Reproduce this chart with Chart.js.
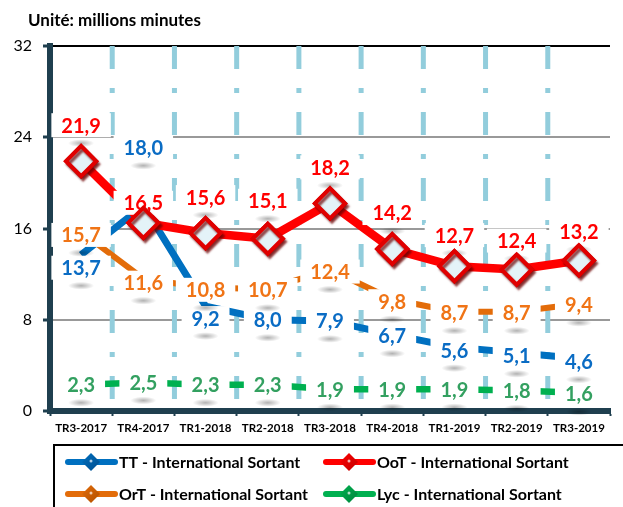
<!DOCTYPE html>
<html><head><meta charset="utf-8">
<script src="https://cdn.jsdelivr.net/npm/chart.js@4"></script>
<style>html,body{margin:0;padding:0;overflow:hidden;background:#fff}</style>
</head><body>
<canvas id="c" width="629" height="507"></canvas>
<script>
const categories = ['TR3-2017','TR4-2017','TR1-2018','TR2-2018','TR3-2018','TR4-2018','TR1-2019','TR2-2019','TR3-2019'];
const ttValues  = [13.7, 18.0, 9.2, 8.0, 7.9, 6.7, 5.6, 5.1, 4.6];
const ootValues = [21.9, 16.5, 15.6, 15.1, 18.2, 14.2, 12.7, 12.4, 13.2];
const ortValues = [15.7, 11.6, 10.8, 10.7, 12.4, 9.8, 8.7, 8.7, 9.4];
const lycValues = [2.3, 2.5, 2.3, 2.3, 1.9, 1.9, 1.9, 1.8, 1.6];
const yTicks = [0, 8, 16, 24, 32];
const seriesNames = ['TT - International Sortant','OoT - International Sortant','OrT - International Sortant','Lyc - International Sortant'];
const unitTitle = 'Unité: millions minutes';

const FONT = 'Lato, "Open Sans", sans-serif';
const AXIS_COLOR = '#1F3F4F';

// label vertical offsets (pixels) relative to each point
const labelDy = {
  tt:  [13, -58, 12, 0, 0, 1, 3, 3, 3],
  oot: [-36, -20, -36, -38, -36, -36, -31, -29, -29],
  ort: [3, 4, 2, 1, 2, 2, 1, 1, 1],
  lyc: [0, 0, 0, 0, 0, 0, 0, 0, 1]
};

const datasets = [
  { label: seriesNames[3], data: lycValues, borderColor: '#00B050', borderWidth: 6.5, pointRadius: 0, order: 4,
    valueLabel: { color: '#33A060', dy: labelDy.lyc }, legendColor: '#00B050', legendDark: '#00843C' },
  { label: seriesNames[2], data: ortValues, borderColor: '#E36C09', borderWidth: 6, pointRadius: 0, order: 3,
    valueLabel: { color: '#F07416', dy: labelDy.ort }, legendColor: '#E36C09', legendDark: '#B05000' },
  { label: seriesNames[0], data: ttValues, borderColor: '#0070C0', borderWidth: 7, pointRadius: 0, order: 2,
    valueLabel: { color: '#0A6CC4', dy: labelDy.tt }, legendColor: '#0070C0', legendDark: '#004C8C' },
  { label: seriesNames[1], data: ootValues, borderColor: '#FF0000', borderWidth: 8.5, order: 1,
    pointStyle: 'rectRot', pointRadius: 15, pointHoverRadius: 15, pointBorderWidth: 4,
    pointBorderColor: '#E00000', pointBackgroundColor: '#E4F3F8',
    valueLabel: { color: '#FF0000', dy: labelDy.oot }, legendColor: '#FF0000', legendDark: '#C00000', markers: true }
];

const fmt = v => v.toFixed(1).replace('.', ',');

const bgPlugin = {
  id: 'vgrid',
  beforeDatasetsDraw(chart) {
    const ctx = chart.ctx, xs = chart.scales.x, a = chart.chartArea;
    const n = categories.length, step = (a.right - a.left) / n;
    ctx.save();
    ctx.strokeStyle = '#92CDDC';
    ctx.lineWidth = 5;
    ctx.setLineDash([23, 19, 5, 19]);
    for (let i = 1; i < n; i++) {
      const x = xs.getPixelForValue(i) - step / 2;
      ctx.beginPath(); ctx.moveTo(x, a.top); ctx.lineTo(x, a.bottom - 3); ctx.stroke();
    }
    ctx.restore();
  }
};

const labelPlugin = {
  id: 'valueLabels',
  afterDatasetsDraw(chart) {
    const ctx = chart.ctx;
    ctx.save();
    ctx.font = 'bold 20px ' + FONT;
    const items = [];
    chart.data.datasets.forEach((ds, i) => {
      if (!ds.valueLabel) return;
      const meta = chart.getDatasetMeta(i);
      meta.data.forEach((pt, j) => {
        const txt = fmt(ds.data[j]);
        const w = ctx.measureText(txt).width;
        items.push({ x: pt.x, y: pt.y + ds.valueLabel.dy[j], w, txt, color: ds.valueLabel.color });
      });
    });
    items.forEach(it => {
      ctx.fillStyle = '#fff';
      ctx.fillRect(it.x - it.w / 2 - 10, it.y - 12, it.w + 20, 24);
    });
    items.forEach(it => {
      const cy = it.y + 18;
      const g = ctx.createRadialGradient(it.x, cy, 0, it.x, cy, 13);
      g.addColorStop(0, 'rgba(0,0,0,0.3)');
      g.addColorStop(1, 'rgba(0,0,0,0)');
      ctx.save();
      ctx.translate(it.x, cy); ctx.scale(1, 0.3); ctx.translate(-it.x, -cy);
      ctx.fillStyle = g;
      ctx.beginPath(); ctx.arc(it.x, cy, 13, 0, Math.PI * 2); ctx.fill();
      ctx.restore();
    });
    ctx.textAlign = 'center'; ctx.textBaseline = 'middle';
    items.forEach(it => {
      ctx.fillStyle = it.color;
      ctx.fillText(it.txt, it.x, it.y + 1);
    });
    // redraw markers on top of labels
    chart.data.datasets.forEach((ds, i) => {
      if (!ds.markers) return;
      const meta = chart.getDatasetMeta(i);
      ctx.save();
      ctx.shadowColor = 'rgba(110,0,0,0.7)';
      ctx.shadowOffsetX = 2; ctx.shadowOffsetY = 3; ctx.shadowBlur = 2;
      meta.data.forEach(p => p.draw(ctx, chart.chartArea));
      ctx.restore();
    });
    ctx.restore();
  },
  afterDraw(chart) {
    const ctx = chart.ctx;
    ctx.save();
    // unit title
    ctx.fillStyle = '#000';
    ctx.font = 'bold 17px ' + FONT;
    ctx.textBaseline = 'middle'; ctx.textAlign = 'left';
    ctx.fillText(unitTitle, 28, 21);
    // legend
    ctx.strokeStyle = '#000'; ctx.lineWidth = 2;
    ctx.strokeRect(54, 445, 700, 100);
    const order = [2, 3, 1, 0];
    const pos = [[65, 462], [323, 462], [65, 494], [323, 494]];
    order.forEach((di, k) => {
      const ds = chart.data.datasets[di];
      const [x, y] = pos[k];
      ctx.strokeStyle = ds.legendColor; ctx.lineWidth = 6; ctx.lineCap = 'round';
      ctx.beginPath(); ctx.moveTo(x + 3, y); ctx.lineTo(x + 50, y); ctx.stroke();
      const cx = x + 26, r = 9;
      const g = ctx.createLinearGradient(cx - r, y - r, cx + r, y + r);
      g.addColorStop(0, ds.legendColor); g.addColorStop(1, ds.legendDark);
      ctx.fillStyle = g;
      ctx.beginPath(); ctx.moveTo(cx, y - r); ctx.lineTo(cx + r, y); ctx.lineTo(cx, y + r); ctx.lineTo(cx - r, y); ctx.closePath(); ctx.fill();
      ctx.fillStyle = 'rgba(255,255,255,0.7)';
      ctx.beginPath(); ctx.arc(cx, y - 1, 1.5, 0, Math.PI * 2); ctx.fill();
      ctx.fillStyle = '#000';
      ctx.font = 'bold 16px ' + FONT;
      ctx.textAlign = 'left'; ctx.textBaseline = 'middle';
      ctx.fillText(ds.label, x + 54, y + 1);
    });
    ctx.restore();
  }
};

new Chart(document.getElementById('c'), {
  type: 'line',
  data: { labels: categories, datasets },
  options: {
    responsive: false,
    animation: false,
    layout: { padding: { top: 46, left: 0, right: 0, bottom: 0 } },
    plugins: { legend: { display: false }, title: { display: false }, tooltip: { enabled: false } },
    elements: { line: { tension: 0, borderCapStyle: 'butt', borderJoinStyle: 'round' } },
    scales: {
      x: {
        offset: true,
        grid: { offset: true, drawOnChartArea: false, drawTicks: true, tickLength: 5, tickColor: AXIS_COLOR, tickWidth: 2 },
        border: { display: true, color: AXIS_COLOR, width: 6 },
        ticks: { color: '#000', font: { family: FONT, size: 11.5, weight: 'bold' }, padding: 5, maxRotation: 0, autoSkip: false },
        afterFit(s) { s.height = 96; }
      },
      y: {
        min: 0, max: 32,
        afterBuildTicks(s) { s.ticks = yTicks.map(v => ({ value: v })); },
        grid: {
          color: c => (c.tick && c.tick.value === 32) ? '#000' : '#999',
          lineWidth: c => (c.tick && c.tick.value === 0) ? 0 : 2,
          drawTicks: true, tickLength: 7, tickColor: AXIS_COLOR, tickWidth: 3
        },
        border: { display: true, color: AXIS_COLOR, width: 6 },
        ticks: { color: '#000', font: { family: FONT, size: 16 }, padding: 11 },
        afterFit(s) { s.width = 50; }
      }
    }
  },
  plugins: [bgPlugin, labelPlugin]
});
</script>
</body></html>
